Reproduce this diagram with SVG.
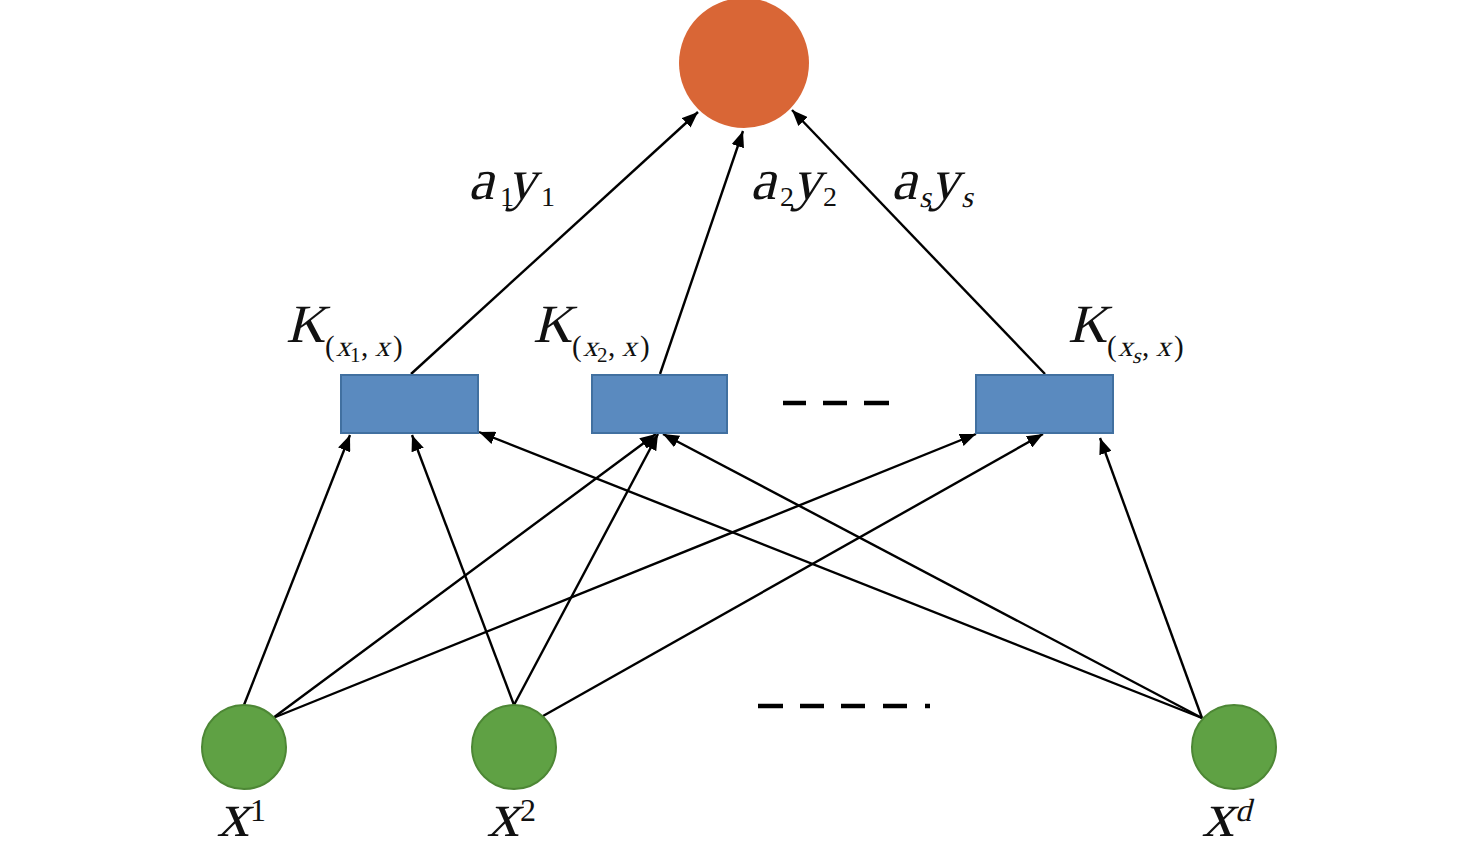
<svg xmlns="http://www.w3.org/2000/svg" width="1476" height="854" viewBox="0 0 1476 854">
<style>
.edge{stroke:#000;stroke-width:2.4;fill:none;marker-end:url(#ah)}
.box{fill:#5a8abf;stroke:#4170a0;stroke-width:2}
.in{fill:#5fa144;stroke:#4d8735;stroke-width:2}
.out{fill:#d96636}
.t{font-family:"Liberation Serif","Times New Roman",serif;font-style:normal;fill:#111}
.dash{stroke:#000;stroke-width:4.5}
</style>
<defs>
<marker id="ah" markerUnits="userSpaceOnUse" markerWidth="17" markerHeight="13" refX="16" refY="6.5" orient="auto">
<path d="M0,0 L16,6.5 L0,13 z" fill="#000"/>
</marker>
</defs>
<rect width="1476" height="854" fill="#fff"/>
<g id="output"><circle class="out" cx="744" cy="63" r="65"/></g>
<g id="connectors">
<line class="edge" x1="411" y1="374" x2="698" y2="112"/>
<line class="edge" x1="660" y1="374" x2="743" y2="131"/>
<line class="edge" x1="1045" y1="374" x2="792" y2="110"/>
<line class="edge" x1="244" y1="705" x2="350" y2="435"/>
<line class="edge" x1="273" y1="718" x2="656" y2="434"/>
<line class="edge" x1="273" y1="718" x2="976" y2="434"/>
<line class="edge" x1="514" y1="705" x2="412" y2="435"/>
<line class="edge" x1="514" y1="705" x2="658" y2="434"/>
<line class="edge" x1="543" y1="716" x2="1043" y2="434"/>
<line class="edge" x1="1202" y1="718" x2="479" y2="432"/>
<line class="edge" x1="1202" y1="718" x2="663" y2="434"/>
<line class="edge" x1="1202" y1="718" x2="1100" y2="438"/>
</g>
<g id="k1"><rect class="box" x="341" y="375" width="137" height="58"/></g>
<g id="k2"><rect class="box" x="592" y="375" width="135" height="58"/></g>
<g id="k3"><rect class="box" x="976" y="375" width="137" height="58"/></g>
<g id="x1"><circle class="in" cx="244" cy="747" r="42"/></g>
<g id="x2"><circle class="in" cx="514" cy="747" r="42"/></g>
<g id="xd"><circle class="in" cx="1234" cy="747" r="42"/></g>
<g id="dots">
<line class="dash" x1="783" y1="403" x2="806" y2="403"/>
<line class="dash" x1="823" y1="403" x2="847" y2="403"/>
<line class="dash" x1="864" y1="403" x2="889" y2="403"/>
<line class="dash" x1="758" y1="706" x2="783" y2="706"/>
<line class="dash" x1="800" y1="706" x2="824" y2="706"/>
<line class="dash" x1="841" y1="706" x2="865" y2="706"/>
<line class="dash" x1="883" y1="706" x2="907" y2="706"/>
<line class="dash" x1="925" y1="706" x2="930" y2="706"/>
</g>
<g id="label-a1y1">
<text class="t" transform="translate(468,199) skewX(-14)" font-size="58">a</text>
<text class="t" x="500" y="206" font-size="28">1</text>
<text class="t" transform="translate(507,199) skewX(-14)" font-size="58">y</text>
<text class="t" x="541" y="206" font-size="28">1</text>
</g>
<g id="label-a2y2">
<text class="t" transform="translate(750,199) skewX(-14)" font-size="58">a</text>
<text class="t" x="780" y="206" font-size="28">2</text>
<text class="t" transform="translate(792,199) skewX(-14)" font-size="58">y</text>
<text class="t" x="823" y="206" font-size="28">2</text>
</g>
<g id="label-asys">
<text class="t" transform="translate(891,199) skewX(-14)" font-size="58">a</text>
<text class="t" transform="translate(919,207) skewX(-14)" font-size="30">s</text>
<text class="t" transform="translate(930,199) skewX(-14)" font-size="58">y</text>
<text class="t" transform="translate(961,207) skewX(-14)" font-size="30">s</text>
</g>
<g id="label-k1">
<text class="t" transform="translate(286,342) skewX(-14)" font-size="54">K</text>
<text class="t" x="325" y="356" font-size="29">(</text>
<text class="t" transform="translate(336,356) skewX(-14)" font-size="29">x</text>
<text class="t" x="350" y="362" font-size="21">1</text>
<text class="t" x="361" y="356" font-size="29">,</text>
<text class="t" transform="translate(375,356) skewX(-14)" font-size="29">x</text>
<text class="t" x="393" y="356" font-size="29">)</text>
</g>
<g id="label-k2">
<text class="t" transform="translate(533,342) skewX(-14)" font-size="54">K</text>
<text class="t" x="572" y="356" font-size="29">(</text>
<text class="t" transform="translate(583,356) skewX(-14)" font-size="29">x</text>
<text class="t" x="597" y="362" font-size="21">2</text>
<text class="t" x="608" y="356" font-size="29">,</text>
<text class="t" transform="translate(622,356) skewX(-14)" font-size="29">x</text>
<text class="t" x="640" y="356" font-size="29">)</text>
</g>
<g id="label-k3">
<text class="t" transform="translate(1068,342) skewX(-14)" font-size="54">K</text>
<text class="t" x="1107" y="356" font-size="29">(</text>
<text class="t" transform="translate(1118,356) skewX(-14)" font-size="29">x</text>
<text class="t" transform="translate(1132,363) skewX(-14)" font-size="22">s</text>
<text class="t" x="1142" y="356" font-size="29">,</text>
<text class="t" transform="translate(1156,356) skewX(-14)" font-size="29">x</text>
<text class="t" x="1174" y="356" font-size="29">)</text>
</g>
<g id="label-x1">
<text class="t" transform="translate(217,836) skewX(-14)" font-size="64">x</text>
<text class="t" x="250" y="821" font-size="32">1</text>
</g>
<g id="label-x2">
<text class="t" transform="translate(487,836) skewX(-14)" font-size="64">x</text>
<text class="t" x="520" y="821" font-size="32">2</text>
</g>
<g id="label-xd">
<text class="t" transform="translate(1202,836) skewX(-14)" font-size="64">x</text>
<text class="t" transform="translate(1235,821) skewX(-14)" font-size="32">d</text>
</g>
</svg>
